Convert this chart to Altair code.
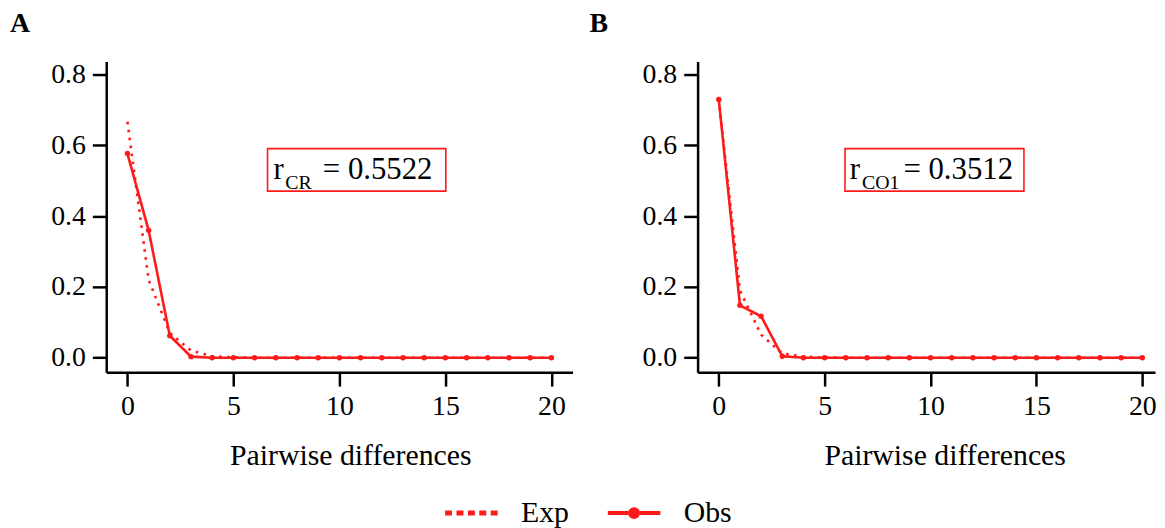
import altair as alt
import pandas as pd

# ---------------- data ----------------
x_vals = [0, 1, 2, 3, 4, 5, 6, 7, 8, 9, 10, 11, 12, 13, 14, 15, 16, 17, 18, 19, 20]

obs_A = [0.577, 0.360, 0.062, 0.003, 0.0, 0.0, 0.0, 0.0, 0.0, 0.0, 0.0,
         0.0, 0.0, 0.0, 0.0, 0.0, 0.0, 0.0, 0.0, 0.0, 0.0]
exp_A = [0.667, 0.220, 0.070, 0.020, 0.004, 0.001, 0.0, 0.0, 0.0, 0.0, 0.0,
         0.0, 0.0, 0.0, 0.0, 0.0, 0.0, 0.0, 0.0, 0.0, 0.0]
obs_B = [0.730, 0.148, 0.117, 0.004, 0.0, 0.0, 0.0, 0.0, 0.0, 0.0, 0.0,
         0.0, 0.0, 0.0, 0.0, 0.0, 0.0, 0.0, 0.0, 0.0, 0.0]
exp_B = [0.730, 0.190, 0.065, 0.012, 0.003, 0.0005, 0.0, 0.0, 0.0, 0.0, 0.0,
         0.0, 0.0, 0.0, 0.0, 0.0, 0.0, 0.0, 0.0, 0.0, 0.0]

panel_letters = ["A", "B"]
r_subscripts = ["CR", "CO1"]
r_values = ["= 0.5522", "= 0.3512"]
x_ticks = [0, 5, 10, 15, 20]
y_ticks = [0.0, 0.2, 0.4, 0.6, 0.8]
series_names = ["Exp", "Obs"]

# annotation placement (data units)
box_A = [6.61, 15.02, 0.591, 0.471]
box_B = [5.96, 14.41, 0.591, 0.471]
txt_A = [6.89, 7.45, 9.22]
txt_B = [6.19, 6.76, 8.72]

RED = "#ff1a1a"
FONT = "Liberation Serif"

# legend symbol paths (drawn over -2..2 so the legend row stays compact)
exp_path = ("M-2,-0.19H-1.472V0.19H-2Z M-1.132,-0.19H-0.604V0.19H-1.132Z "
            "M-0.264,-0.19H0.264V0.19H-0.264Z M0.604,-0.19H1.132V0.19H0.604Z "
            "M1.472,-0.19H2V0.19H1.472Z")
obs_path = ("M-2,-0.15H-0.44V0.15H-2Z M0.44,-0.15H2V0.15H0.44Z "
            "M-0.45,0A0.45,0.45 0 1,0 0.45,0A0.45,0.45 0 1,0 -0.45,0Z")


def panel(letter, obs, exp, sub, rval, box, txt, width, xmax, title_dx, title_x, with_legend):
    df = pd.DataFrame({
        "x": x_vals + x_vals,
        "y": obs + exp,
        "series": ["Obs"] * len(x_vals) + ["Exp"] * len(x_vals),
    })
    xs = alt.Scale(domain=[-1, xmax], nice=False, zero=False)
    ys = alt.Scale(domain=[-0.041, 0.837], nice=False, zero=False)
    xaxis = alt.Axis(values=x_ticks, title="Pairwise differences", titleX=title_x)
    yaxis = alt.Axis(values=y_ticks, format=".1f", title=None)
    xenc = alt.X("x:Q", scale=xs, axis=xaxis)
    yenc = alt.Y("y:Q", scale=ys, axis=yaxis)

    base = alt.Chart(df)
    exp_line = base.transform_filter("datum.series == 'Exp'").mark_line(
        color=RED, strokeWidth=2.6, strokeDash=[2.6, 5.5]).encode(x=xenc, y=yenc)
    obs_line = base.transform_filter("datum.series == 'Obs'").mark_line(
        color=RED, strokeWidth=2.6).encode(x=xenc, y=yenc)
    obs_pts = base.transform_filter("datum.series == 'Obs'").mark_circle(
        color=RED, size=30, opacity=1).encode(x=xenc, y=yenc)

    box_df = pd.DataFrame({"x1": [box[0]], "x2": [box[1]], "y1": [box[2]], "y2": [box[3]]})
    rect = alt.Chart(box_df).mark_rect(fill="white", stroke=RED, strokeWidth=1.6).encode(
        x=alt.X("x1:Q", scale=xs, axis=xaxis), x2="x2:Q",
        y=alt.Y("y1:Q", scale=ys, axis=yaxis), y2="y2:Q")

    text_df = pd.DataFrame({
        "x": txt,
        "y": [0.504, 0.478, 0.504],
        "t": ["r", sub, rval],
        "fs": [31, 20, 31],
    })
    texts = alt.Chart(text_df).mark_text(align="left", baseline="alphabetic", font=FONT,
                                         color="black").encode(
        x=alt.X("x:Q", scale=xs, axis=xaxis),
        y=alt.Y("y:Q", scale=ys, axis=yaxis),
        text="t:N",
        size=alt.Size("fs:Q", scale=None, legend=None))

    layers = [exp_line, obs_line, obs_pts, rect, texts]
    if with_legend:
        leg = base.mark_point(filled=True, opacity=0, color=RED).encode(
            x=xenc, y=yenc,
            shape=alt.Shape("series:N",
                            scale=alt.Scale(domain=series_names, range=[exp_path, obs_path]),
                            legend=alt.Legend(title=None, orient="none", direction="horizontal",
                                              legendX=353, legendY=440,
                                              symbolSize=702, symbolStrokeWidth=0,
                                              symbolFillColor=RED, symbolOpacity=1,
                                              labelFont=FONT, labelFontSize=30,
                                              labelColor="black", labelOffset=35,
                                              columnPadding=38)))
        layers.append(leg)

    return alt.layer(*layers).properties(
        width=width, height=313,
        title=alt.TitleParams(letter, anchor="start", frame="group", dx=title_dx, offset=23,
                              font=FONT, fontSize=28, fontWeight="bold", color="black"))


pA = panel(panel_letters[0], obs_A, exp_A, r_subscripts[0], r_values[0], box_A, txt_A,
           470, 21, -97, 246, True)
pB = panel(panel_letters[1], obs_B, exp_B, r_subscripts[1], r_values[1], box_B, txt_B,
           461, 20.6, -109, 249, False)

chart = alt.hconcat(pA, pB, spacing=17).properties(
    padding={"left": 2, "top": 0, "right": 0, "bottom": 0}
).configure_view(stroke=None).configure_axis(
    domainColor="black", domainWidth=2.5, tickColor="black", tickWidth=2.5, tickSize=14,
    labelFont=FONT, labelFontSize=28, labelColor="black", labelPadding=7,
    titleFont=FONT, titleFontSize=30, titleColor="black", titleFontWeight="normal",
    titlePadding=20, grid=False
).configure_axisX(labelFlush=False).configure_axisY(labelFlush=False)

chart.save("out.html", embed_options={"renderer": "svg", "actions": False})
